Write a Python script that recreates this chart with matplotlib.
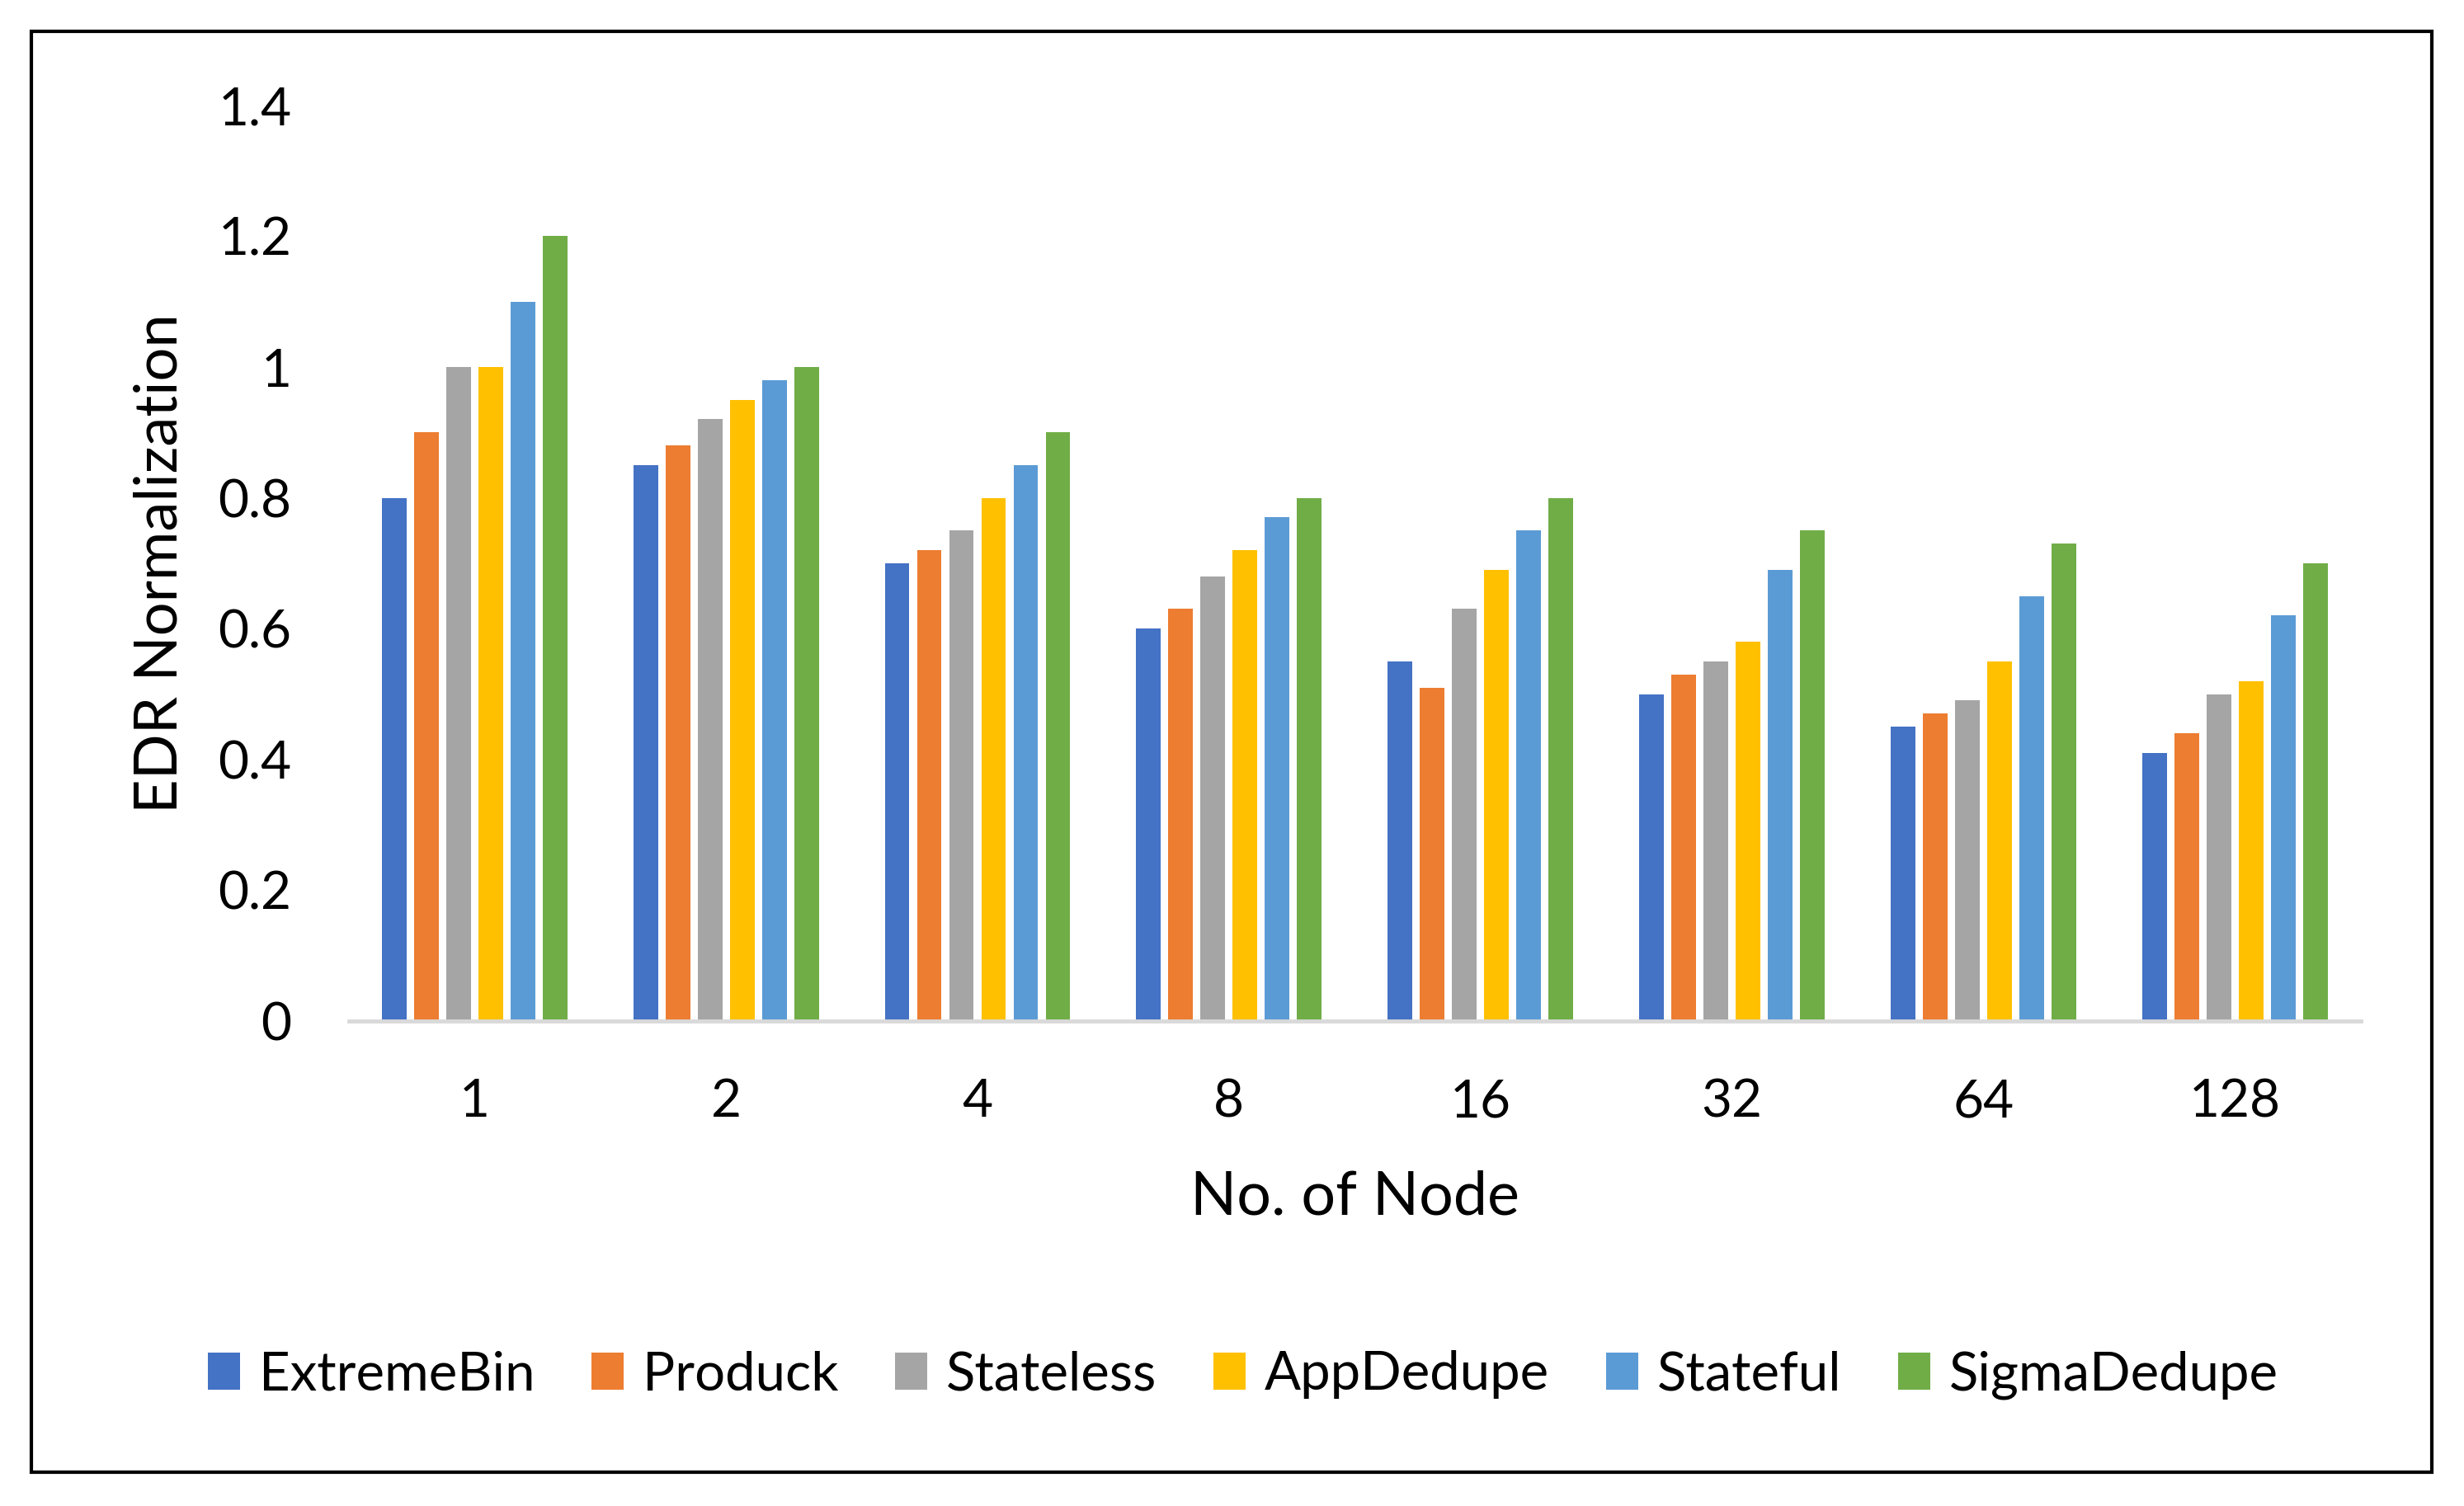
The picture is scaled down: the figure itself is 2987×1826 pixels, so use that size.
import numpy as np
import matplotlib
matplotlib.use("Agg")
import matplotlib.pyplot as plt
from matplotlib.patches import Rectangle

plt.rcParams['font.family'] = ['Lato', 'DejaVu Sans']

# dane
nodes = ['1', '2', '4', '8', '16', '32', '64', '128']
series = ['ExtremeBin', 'Produck', 'Stateless', 'AppDedupe', 'Stateful', 'SigmaDedupe']
extremebin = [0.80, 0.85, 0.70, 0.60, 0.55, 0.50, 0.45, 0.41]
produck = [0.90, 0.88, 0.72, 0.63, 0.51, 0.53, 0.47, 0.44]
stateless = [1.00, 0.92, 0.75, 0.68, 0.63, 0.55, 0.49, 0.50]
appdedupe = [1.00, 0.95, 0.80, 0.72, 0.69, 0.58, 0.55, 0.52]
stateful = [1.10, 0.98, 0.85, 0.77, 0.75, 0.69, 0.65, 0.62]
sigmadedupe = [1.20, 1.00, 0.90, 0.80, 0.80, 0.75, 0.73, 0.70]
values = [extremebin, produck, stateless, appdedupe, stateful, sigmadedupe]
colors = ['#4472C4', '#ED7D31', '#A5A5A5', '#FFC000', '#5B9BD5', '#70AD47']

fig = plt.figure(figsize=(29.87, 18.26), dpi=100)
ax = fig.add_axes([0.1416, 0.322, 0.8164, 0.608])

x = np.arange(len(nodes))
step = 0.128
width = 0.098
for k, (name, vals, c) in enumerate(zip(series, values, colors)):
    ax.bar(x + (k - 2.5) * step, vals, width, color=c, label=name, zorder=2)

ax.set_xlim(-0.5, len(nodes) - 0.5)
ax.set_ylim(0, 1.4)
ax.set_yticks(np.arange(0, 1.41, 0.2))
ax.set_yticklabels(['0', '0.2', '0.4', '0.6', '0.8', '1', '1.2', '1.4'])
ax.set_xticks(x)
ax.set_xticklabels(nodes)
ax.tick_params(axis='both', length=0, labelsize=46, colors='black')
ax.tick_params(axis='y', pad=50)
ax.tick_params(axis='x', pad=50)

for s in ['top', 'right', 'left']:
    ax.spines[s].set_visible(False)
ax.spines['bottom'].set_color('#D9D9D9')
ax.spines['bottom'].set_linewidth(3.5)
ax.spines['bottom'].set_zorder(3)

fig.text(0.065, 0.626, 'EDR Normalization', rotation=90, ha='center', va='center', fontsize=52)
fig.text(0.55, 0.205, 'No. of Node', ha='center', va='center', fontsize=53)

fig.legend(loc='center', bbox_to_anchor=(0.5045, 0.087), ncol=6, frameon=False,
           fontsize=47, handlelength=0.6, handleheight=0.7, handletextpad=0.35,
           columnspacing=1.05)

# ramka wokół wykresu
fig.patches.append(Rectangle((0.0128, 0.0225), 0.9742, 0.9565, transform=fig.transFigure,
                             fill=False, edgecolor='black', linewidth=3))

fig.savefig('out.png', dpi=100)
